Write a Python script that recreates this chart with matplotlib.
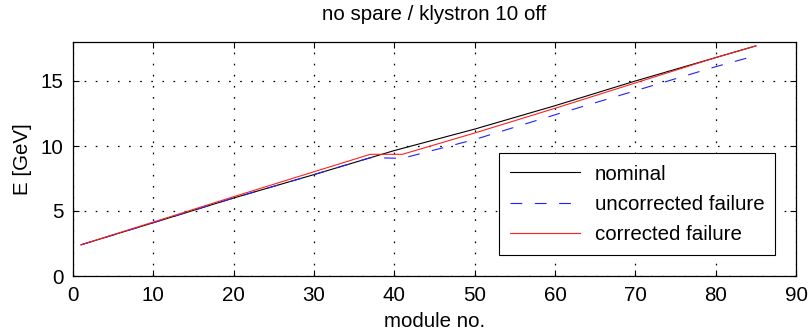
import matplotlib
matplotlib.use("Agg")
import matplotlib.pyplot as plt

# data
nom_x = [1, 10, 20, 30, 40, 50, 60, 70, 80, 85]
nom_E = [2.4, 4.1, 6.0, 7.8, 9.65, 11.3, 13.1, 15.0, 16.8, 17.7]

unc_x = [1, 10, 20, 30, 37, 41, 50, 60, 70, 80, 85]
unc_E = [2.4, 4.1, 6.0, 7.8, 9.1, 9.05, 10.5, 12.4, 14.25, 16.1, 16.95]

cor_x = [1, 10, 20, 30, 37, 41, 50, 60, 70, 80, 85]
cor_E = [2.4, 4.15, 6.1, 8.02, 9.36, 9.36, 11.0, 12.9, 14.85, 16.8, 17.7]

labels = ["nominal", "uncorrected failure", "corrected failure"]
xticks = [0, 10, 20, 30, 40, 50, 60, 70, 80, 90]
yticks = [0, 5, 10, 15]

plt.rcParams['font.family'] = ['Liberation Sans', 'DejaVu Sans']
plt.rcParams['lines.scale_dashes'] = False

FS = 14.8

fig = plt.figure(figsize=(8.08, 3.33), dpi=100)
ax = fig.add_axes([73/808, 57/333, (796-73)/808, (276-42)/333])

ax.plot(nom_x, nom_E, color='black', lw=0.8, label=labels[0])
ax.plot(unc_x, unc_E, color='#2020ff', lw=0.8, dashes=(8.5, 9), label=labels[1])
ax.plot(cor_x, cor_E, color='#ff2020', lw=0.8, label=labels[2])

ax.set_xlim(0, 90)
ax.set_ylim(0, 18)
ax.set_xticks(xticks)
ax.set_yticks(yticks)
ax.grid(True, color='black', linestyle=(0, (1.2, 6.8)), linewidth=0.9)
ax.tick_params(direction='in', top=True, right=True, length=4, width=0.8,
               labelsize=FS, pad=7)
for s in ax.spines.values():
    s.set_linewidth(0.9)

ax.set_title("no spare / klystron 10 off", fontsize=FS, pad=16)
ax.set_xlabel("module no.", fontsize=FS, labelpad=5)
ax.set_ylabel("E [GeV]", fontsize=FS, labelpad=6)

leg = ax.legend(loc='lower right', fontsize=FS, handlelength=3.4,
                borderaxespad=1.0, fancybox=False, framealpha=1,
                edgecolor='black', borderpad=0.55, labelspacing=0.55,
                handletextpad=0.7)
leg.get_frame().set_linewidth(0.8)

fig.savefig("out.png", dpi=100)
